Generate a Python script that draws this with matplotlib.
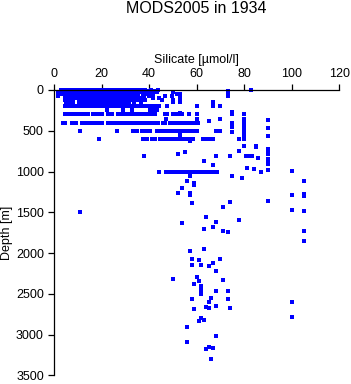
import numpy as np
import matplotlib
matplotlib.use("Agg")
import matplotlib.pyplot as plt

plt.rcParams['font.family'] = ['Liberation Sans', 'DejaVu Sans']

# silicate values per standard depth level (m) in the dense upper layer
lvl_0 = [2.9, 3.9, 4.8, 5.8, 6.7, 7.7, 8.6, 9.6, 10.5, 11.5, 12.4, 13.4, 14.3, 15.3, 16.2,
         17.2, 18.1, 19.1, 20.0, 21.0, 21.9, 22.9, 23.8, 24.8, 25.7, 26.7, 27.6, 28.6, 29.5,
         30.5, 31.4, 32.4, 33.3, 34.3, 35.2, 36.2, 37.1, 38.4, 40.7, 43.9, 83.0]
lvl_10 = [3.2, 4.1, 5.1, 6.0, 7.0, 7.9, 8.9, 9.8, 10.8, 11.7, 12.7, 13.6, 14.6, 15.5, 16.5,
          17.4, 18.4, 19.3, 20.3, 21.2, 22.2, 23.1, 24.1, 25.0, 26.0, 26.9, 27.9, 28.8, 29.8,
          30.7, 31.7, 32.6, 33.6, 34.5, 35.5, 36.4, 37.6, 39.2, 42.0, 73.0]
lvl_20 = [3.0, 3.9, 4.9, 5.8, 6.8, 7.7, 8.7, 9.6, 10.6, 11.5, 12.5, 13.4, 14.4, 15.3, 16.3,
          17.2, 18.2, 19.1, 20.1, 21.0, 22.0, 22.9, 23.9, 24.8, 25.8, 26.7, 27.7, 28.6, 29.6,
          30.5, 31.5, 32.4, 33.4, 34.3, 35.3, 36.0, 38.5, 40.3, 43.2, 49.9, 73.0]
lvl_30 = [1.8, 2.8, 3.7, 4.7, 5.6, 6.6, 7.5, 8.5, 9.4, 10.4, 11.3, 12.3, 13.2, 14.2, 15.1,
          16.1, 17.0, 18.0, 18.9, 19.9, 20.8, 21.8, 22.7, 23.7, 24.6, 25.6, 26.5, 27.5, 28.4,
          29.4, 30.3, 31.3, 32.2, 33.2, 34.1, 35.1, 35.8, 37.9, 41.7, 50.2]
lvl_50 = [1.8, 2.7, 3.6, 4.6, 5.5, 6.5, 7.4, 8.4, 9.3, 10.3, 11.2, 12.2, 13.1, 14.1, 15.0,
          16.0, 16.9, 17.9, 18.8, 19.8, 20.7, 21.7, 22.6, 23.6, 24.5, 25.5, 26.4, 27.4, 28.3,
          29.3, 30.2, 31.2, 32.1, 33.1, 34.0, 35.0, 37.3, 39.4, 41.7, 51.8, 53.0]
lvl_75 = [1.8, 4.6, 5.5, 6.5, 7.4, 8.4, 9.3, 10.3, 11.2, 12.2, 13.1, 14.1, 15.0, 16.0, 16.9,
          17.9, 18.8, 19.8, 20.7, 21.7, 22.6, 23.6, 24.5, 25.5, 26.4, 27.4, 28.3, 29.3, 30.2,
          31.2, 32.1, 33.1, 34.0, 35.0, 35.5, 38.0, 40.0, 46.7, 49.5, 73.0]
lvl_100 = [4.6, 5.6, 6.5, 7.5, 8.4, 9.4, 10.3, 11.3, 12.2, 13.2, 14.1, 15.1, 16.0, 17.0, 17.9,
           18.9, 19.8, 20.8, 21.7, 22.7, 23.6, 24.6, 25.5, 26.5, 27.4, 28.4, 29.3, 30.3, 31.2,
           32.2, 33.1, 34.1, 34.5, 37.0, 41.7, 44.0, 53.0]
lvl_125 = [4.6, 5.5, 6.4, 7.3, 8.2, 10.4, 11.3, 12.2, 13.1, 14.0, 14.9, 15.8, 16.7, 17.6, 18.5,
           19.4, 20.3, 21.2, 22.1, 23.0, 23.9, 24.8, 25.7, 26.6, 27.5, 28.4, 29.3, 30.2, 31.1,
           32.0, 33.0, 35.2, 36.6, 38.1, 45.3, 49.9, 53.0]
lvl_150 = [5.0, 6.0, 7.0, 8.0, 10.5, 11.5, 12.5, 13.5, 14.5, 15.5, 17.2, 18.2, 19.2, 21.0,
           22.0, 23.0, 24.5, 25.5, 26.5, 28.0, 29.0, 30.0, 31.5, 33.8, 36.8, 50.2, 53.0, 67.0]
lvl_200 = [4.6, 5.5, 6.4, 7.3, 8.2, 9.0, 10.6, 11.5, 12.4, 13.3, 14.2, 15.1, 16.0, 16.9, 17.8,
           18.7, 19.5, 20.6, 21.5, 22.4, 23.3, 24.2, 25.1, 26.0, 26.9, 27.8, 28.7, 29.6, 30.5,
           31.4, 32.3, 33.2, 34.0, 35.2, 36.1, 37.0, 37.9, 38.8, 39.8, 41.6, 42.5, 43.4, 44.0,
           47.4, 60.0, 67.0, 70.0]
lvl_250 = [22.1, 29.0, 33.0, 40.4, 41.7, 43.2]
lvl_300 = [4.6, 5.3, 6.0, 7.0, 8.1, 9.0, 9.9, 10.8, 11.7, 12.6, 13.0, 14.4, 16.5, 17.4, 18.3,
           19.2, 20.0, 22.8, 23.6, 24.2, 27.0, 27.8, 28.4, 29.8, 30.7, 31.6, 32.5, 33.4, 34.3,
           35.2, 36.1, 37.0, 37.9, 38.8, 39.7, 40.6, 41.5, 42.5, 46.7, 47.4, 50.1, 51.0, 51.9,
           52.8, 53.7, 56.9, 60.0, 75.0, 80.0]
lvl_400 = [3.9, 4.5, 7.7, 8.5, 9.2, 11.6, 12.5, 13.4, 14.3, 15.2, 16.1, 17.0, 17.9, 18.8, 19.7,
           20.0, 22.8, 23.5, 24.2, 26.1, 27.0, 28.4, 29.3, 30.2, 31.1, 32.0, 32.9, 33.8, 34.7,
           35.4, 36.9, 37.8, 38.7, 39.6, 40.5, 41.4, 41.7, 43.2, 43.9, 45.9, 46.8, 48.8, 49.7,
           50.6, 51.6, 52.5, 53.4, 54.4, 55.1, 56.5, 57.4, 58.3, 59.7, 60.7, 75.0]
lvl_500 = [10.9, 26.3, 33.1, 34.0, 34.8, 36.9, 37.8, 38.7, 39.6, 40.4, 43.2, 44.6, 45.5, 46.4,
           47.3, 48.2, 49.1, 50.0, 50.9, 51.6, 53.0, 53.9, 54.8, 55.7, 56.6, 57.5, 58.6, 60.0,
           68.0, 70.0, 80.0]
lvl_600 = [19.0, 37.5, 38.3, 39.0, 41.1, 41.8, 42.5, 44.6, 45.5, 46.4, 47.3, 48.2, 49.1, 50.0,
           50.9, 51.8, 52.7, 53.6, 54.5, 55.4, 56.3, 57.2, 58.1, 58.6, 62.8, 63.7, 64.6, 65.6,
           67.0, 78.0, 80.0]
lvl_800 = [38.0, 68.0, 74.0, 80.8, 81.7, 82.6, 83.1]
lvl_1000 = [44.0, 47.0, 48.5, 49.4, 50.3, 51.2, 52.1, 53.0, 53.7, 55.7, 56.6, 57.5, 58.6, 60.0,
            61.4, 62.3, 63.2, 64.1, 65.0, 65.6, 66.7, 67.6, 68.4, 87.0]

levels = [0, 10, 20, 30, 50, 75, 100, 125, 150, 200, 250, 300, 400, 500, 600, 805, 1005]
level_values = [lvl_0, lvl_10, lvl_20, lvl_30, lvl_50, lvl_75, lvl_100, lvl_125, lvl_150,
                lvl_200, lvl_250, lvl_300, lvl_400, lvl_500, lvl_600, lvl_800, lvl_1000]

# scattered observations off the standard levels
extra_si = [75, 53, 47, 60, 70, 80, 90, 65, 80, 75, 80, 75, 80, 90, 75, 80, 53, 80, 90, 80,
            57, 80, 85, 85, 90, 78, 90, 55, 52, 90, 86, 90, 90, 63, 90, 67, 81, 84, 90, 100,
            57, 75, 79, 56, 105, 59, 59, 54, 52, 57, 105, 57, 100, 105]
extra_depth = [275, 285, 350, 350, 360, 360, 370, 380, 390, 430, 440, 455, 470, 470, 520, 530,
               550, 560, 565, 590, 625, 690, 690, 705, 725, 745, 750, 757, 790, 790, 840, 845,
               870, 875, 910, 915, 960, 973, 980, 995, 1055, 1060, 1083, 1115, 1120, 1145,
               1170, 1205, 1260, 1260, 1280, 1290, 1290, 1305]

deep_si = [11, 58, 71, 74, 90, 100, 105, 54, 64, 68, 78, 63, 67, 71, 73, 105, 105, 57, 63, 58,
           61, 70, 58, 62, 65, 67, 68, 50, 60, 61, 71, 59, 62, 62, 62, 68, 73, 58, 66, 65, 73,
           100, 59, 64, 65, 68, 74, 62, 61, 63, 100, 56, 68, 56, 64, 65, 67, 66]
deep_depth = [1500, 1390, 1430, 1380, 1360, 1470, 1480, 1630, 1555, 1620, 1590, 1700, 1675,
              1730, 1740, 1730, 1855, 1980, 1955, 2075, 2090, 2075, 2150, 2150, 2160, 2120,
              2220, 2320, 2300, 2345, 2335, 2385, 2410, 2450, 2500, 2460, 2470, 2570, 2550,
              2600, 2565, 2600, 2690, 2660, 2670, 2655, 2670, 2800, 2830, 2825, 2780, 2910,
              3020, 3095, 3180, 3150, 3165, 3305]

si = []
depth = []
for d, vals in zip(levels, level_values):
    si += vals
    depth += [d] * len(vals)
si += extra_si + deep_si
depth += extra_depth + deep_depth

fig = plt.figure(figsize=(3.51, 3.84), dpi=100)
ax = fig.add_axes([54 / 351, 1 - 375.3 / 384, 285.3 / 351, 285.3 / 384])

ax.plot(si, depth, linestyle='none', marker='s', markersize=2.3,
        markeredgewidth=0, color='#0000ff', clip_on=False)

ax.set_xlim(0, 120)
ax.set_ylim(3500, 0)
ax.set_xticks([0, 20, 40, 60, 80, 100, 120])
ax.set_yticks([0, 500, 1000, 1500, 2000, 2500, 3000, 3500])
ax.xaxis.tick_top()
ax.xaxis.set_label_position('top')
ax.spines['bottom'].set_visible(False)
ax.spines['right'].set_visible(False)
for s in ['top', 'left']:
    ax.spines[s].set_linewidth(0.9)
ax.tick_params(direction='out', length=4.3, width=0.9, pad=3, labelsize=9)
ax.set_xlabel('Silicate [\u00b5mol/l]', fontsize=9, labelpad=3.5)
ax.set_ylabel('Depth [m]', fontsize=9, labelpad=2)

fig.text(196.5 / 351, 1 - 8.5 / 384, 'MODS2005 in 1934', ha='center', va='center',
         fontsize=11.5)

fig.savefig('out.png', dpi=100)
